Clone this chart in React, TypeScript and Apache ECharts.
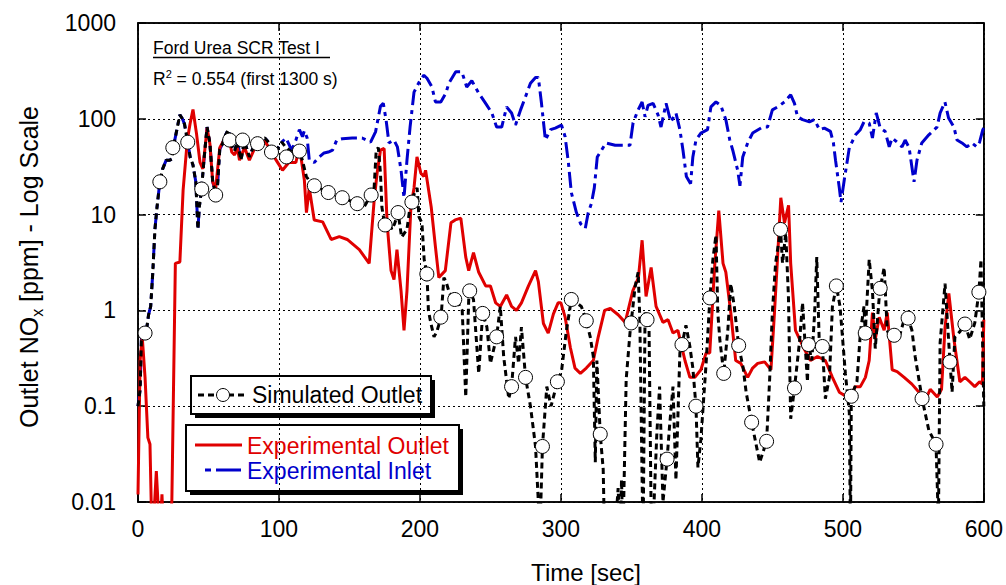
import React, { useEffect, useRef } from "react";
import * as echarts from "echarts";

const FONT = "'Liberation Sans', Arial, Helvetica, sans-serif";

const xTicks = [0, 100, 200, 300, 400, 500, 600];
const yTickLabels = ["0.01", "0.1", "1", "10", "100", "1000"];

// Experimental Inlet (time s, NOx ppm)
const inletT = [0, 1.5, 2.5, 4, 6, 7.5, 9, 10.5, 12, 13.5, 15.5, 17.5, 20, 22.5, 24, 25, 27, 29.7, 31.5, 33, 35, 37, 39, 41, 42.5, 43.5, 45, 47, 49, 51, 53, 55, 56, 58, 60, 61.5, 64, 66.5, 68.5, 70.5, 73, 75.6, 79, 83, 86, 90, 93, 97, 102, 105, 109, 112, 114.5, 116.7, 118, 120, 121.5, 125, 128.6, 132, 135, 138, 141, 145, 152, 159, 165, 168.5, 172, 174, 176, 178, 181.6, 184, 186.6, 188.7, 190.8, 193, 195.8, 200, 202.8, 205, 208.5, 211, 214.8, 218.4, 220.5, 225.4, 229.7, 233.2, 236.8, 241.7, 246.6, 251, 254.4, 258, 261.5, 265, 267.8, 271.4, 274.9, 278.4, 282, 284, 286.2, 289, 292.6, 296, 300.4, 303, 305.3, 307.4, 311, 314, 317.3, 319.4, 321.6, 323.7, 325.8, 332, 338.5, 345.6, 349, 351.2, 354.8, 357.6, 359.7, 361.8, 365.4, 368.9, 371, 374.6, 378, 381.6, 384.4, 386.6, 389, 392, 393.6, 395.8, 399.3, 404, 406.4, 410, 413.4, 417, 419.8, 421.9, 425.4, 427, 429, 432.5, 436, 443, 446.6, 450, 453.7, 458.6, 463, 465.7, 467.8, 471.4, 476.3, 479.9, 483.4, 486.9, 491.2, 493.3, 494.8, 497.5, 498.7, 501, 504.6, 509, 512.4, 515, 518.7, 521, 523.7, 526.5, 530, 532.9, 535, 538.5, 542, 544.2, 547, 550.5, 552.6, 556, 561, 566.8, 569, 572.4, 575, 578.8, 581, 584.5, 588, 591.5, 595, 597, 599.3, 600];
const inletV = [0.1, 0.15, 0.55, 0.6, 0.62, 0.9, 1.1, 2.5, 7, 12, 22, 30, 37, 37, 38, 50, 70, 110, 100, 88, 60, 40, 33, 22, 7, 12, 18, 40, 82, 56, 22, 17, 16, 48, 55, 65, 77, 52, 46, 58, 37, 58, 40, 56, 60, 63, 56, 44, 57, 63, 47, 60, 77, 65, 75, 63, 37, 35, 40, 44, 45, 47, 60, 62, 63, 63, 57, 73, 135, 145, 97, 56, 60, 51, 29, 15, 37, 82, 190, 250, 285, 265, 215, 150, 150, 185, 235, 310, 310, 215, 250, 185, 145, 115, 82, 82, 133, 115, 86, 124, 170, 235, 270, 270, 146, 60, 77, 80, 86, 65, 35, 17, 10.5, 8, 7.2, 10.5, 13, 19, 40, 56, 53, 53, 53, 91, 124, 150, 105, 138, 145, 110, 82, 145, 93, 115, 77, 47, 25, 21, 40, 60, 71, 77, 133, 150, 138, 98, 60, 47, 29, 20, 40, 56, 71, 82, 82, 124, 133, 150, 178, 145, 105, 98, 93, 98, 77, 80, 74, 56, 37, 19, 13.5, 23, 50, 68, 77, 93, 90, 63, 115, 80, 74, 51, 63, 57, 51, 60, 50, 22, 37, 56, 68, 82, 115, 150, 102, 82, 60, 56, 51, 56, 51, 57, 77, 80];

// Experimental Outlet
const outletT = [0, 1.5, 3, 5, 7, 8.5, 9.5, 11, 13, 14.5, 16, 17, 18, 22, 24, 26.5, 29.7, 32, 35, 37, 39, 41.5, 44, 46, 49, 51, 53, 55, 58, 61.5, 64, 66.5, 68.5, 70.5, 72, 75.6, 79, 83, 86, 90, 93, 98, 102.5, 107, 112, 114.5, 118, 119.5, 121.5, 125, 131, 137, 142.8, 148.4, 157, 164, 167.5, 169.6, 172, 174.6, 176.7, 179.5, 181.6, 183.7, 186.6, 188.7, 190.8, 193.6, 195.8, 197.9, 200.7, 202.8, 204, 208, 211, 213.4, 218, 222, 225, 229, 232.5, 234.6, 238, 241.7, 246.6, 250, 253.7, 257, 261.5, 265, 268.5, 272, 277, 282, 284, 287.6, 291, 294.7, 298, 300, 303, 306.7, 310, 313.8, 318, 323, 326.5, 331, 335, 340.6, 345.6, 351, 355, 357.6, 360.4, 364, 367.5, 372.4, 376, 379.5, 383, 388, 391.5, 395, 399.3, 403, 405.6, 409, 412, 415, 417, 420.5, 424, 427.6, 432.5, 436, 439.6, 444.5, 449, 451.5, 453.7, 456, 458.6, 461.5, 463, 466.4, 472.8, 477, 482, 487.6, 492.6, 497.5, 501, 505, 508.8, 512.4, 516, 518.7, 521, 523, 525.8, 529.3, 531.5, 535, 538.5, 543.5, 549, 554, 558.3, 562, 567, 570, 572.5, 575.2, 578.8, 583, 586.6, 590, 593.6, 597, 599, 600];
const outletV = [0.012, 0.3, 0.53, 0.2, 0.047, 0.04, 0.008, 0.006, 0.021, 0.008, 0.006, 0.012, 0.005, 0.005, 0.01, 3.1, 3.2, 18, 60, 90, 125, 70, 35, 30, 80, 55, 22, 18, 50, 62, 70, 45, 42, 50, 37, 50, 37, 50, 55, 58, 50, 37, 29, 35, 35, 51, 23, 10.5, 19, 8.8, 8.4, 5.5, 5.9, 5.5, 4.3, 3.1, 14, 27, 47, 49, 8.2, 2.6, 2.1, 4.3, 1.6, 0.62, 1.6, 12, 19, 40, 27, 25, 29, 12, 4.6, 2.2, 2.6, 8.2, 8.8, 9.2, 3.6, 2.6, 4, 2.5, 1.8, 1.8, 1.2, 1.1, 1.45, 1.1, 1.0, 1.2, 1.8, 2.6, 2.0, 0.73, 0.58, 0.92, 1.2, 1.2, 0.85, 0.41, 0.25, 0.22, 0.25, 0.3, 0.53, 1.0, 1.05, 0.9, 0.75, 1.6, 2.2, 5.4, 1.4, 2.8, 1.1, 0.75, 0.8, 0.58, 0.62, 0.3, 0.2, 0.2, 0.24, 0.36, 0.36, 2.8, 11, 3.1, 2.5, 0.95, 0.3, 0.28, 0.2, 0.25, 0.28, 0.29, 0.24, 0.95, 3.6, 15, 8.2, 12.5, 3.1, 0.62, 0.39, 0.3, 0.33, 0.3, 0.2, 0.14, 0.13, 0.12, 0.16, 0.16, 0.2, 0.3, 0.95, 0.5, 0.85, 0.62, 0.95, 0.24, 0.23, 0.2, 0.17, 0.14, 0.115, 0.15, 0.125, 0.15, 0.67, 1.5, 0.5, 0.18, 0.2, 0.18, 0.16, 0.18, 0.17, 0.8];

// Simulated Outlet (line)
const simT = [0, 1.5, 2.5, 4, 6, 7.5, 9, 10.5, 12, 13.5, 15.5, 17.5, 20, 22.5, 24, 25, 27, 29.7, 31.5, 33, 35, 37, 39, 41, 42.5, 43.5, 45, 47, 49, 51, 53, 55, 56, 58, 60, 61.5, 64, 66.5, 68.5, 70.5, 73, 75.6, 79, 83, 86, 90, 93, 97, 102, 105, 109, 112, 114.5, 116.6, 119.4, 122, 125, 135, 145, 155.5, 160.4, 163, 165, 167.5, 169, 170.5, 172, 173, 175, 178, 180, 182, 184.5, 187, 190.8, 193.6, 196, 198, 199.3, 201.4, 203, 205, 206, 207.7, 210, 212, 215, 217, 218.5, 221, 224.7, 227, 230, 232.5, 234.6, 235.3, 238, 241.7, 244.5, 247.5, 250, 254.4, 257, 259.4, 263, 265, 267.8, 270, 272, 274.9, 278.4, 282, 284, 285, 286.9, 290, 293, 297.5, 300.4, 303.8, 307.4, 311, 314.5, 318, 320.8, 323, 324.4, 325.5, 327.9, 330, 331, 338, 340.6, 342, 343, 344, 346.3, 349, 349.8, 352.6, 354.8, 356, 357.6, 358.3, 359.7, 361.1, 362.5, 364, 365, 368, 370, 372.4, 375.3, 377, 379.5, 381.6, 384.4, 385.9, 388.7, 391.5, 393.6, 395.8, 397.2, 399.3, 403, 405.7, 407.8, 410, 411.3, 412.7, 415.5, 418.4, 420.5, 423, 426.1, 429.3, 431.4, 435.3, 441, 445.9, 448, 450, 452.3, 455.8, 457.2, 459.5, 461.4, 463, 465.7, 469.2, 471.4, 473, 474.9, 475.6, 478, 480, 481.5, 483.4, 485.5, 487.6, 490.5, 492.6, 495.4, 498, 501.8, 504.6, 505.4, 506, 510, 512.5, 515, 515.9, 518.7, 521, 523, 526, 526.5, 529.3, 531.5, 534, 536.4, 540, 543.5, 546.3, 549, 551.3, 556.2, 561, 566.1, 567.8, 569, 572.5, 576, 577.5, 579.5, 583, 586.6, 590, 593.6, 596.5, 598, 600];
const simV = [0.1, 0.15, 0.55, 0.6, 0.62, 0.9, 1.1, 2.5, 7, 12, 22, 30, 37, 37, 38, 50, 70, 110, 100, 88, 60, 40, 33, 22, 7, 12, 18, 40, 82, 56, 22, 17, 16, 48, 55, 65, 77, 52, 46, 58, 37, 58, 40, 56, 60, 63, 56, 44, 57, 50, 45, 50, 46, 37, 25, 22, 20, 17, 15, 13, 12, 14, 16, 19, 47, 50, 27, 12, 7.8, 8.8, 7, 8, 10.5, 5.8, 7, 14, 16.5, 19, 9.5, 8.2, 3.4, 2.4, 1, 0.74, 0.53, 0.6, 0.85, 2.2, 2, 1.5, 1.3, 1.2, 1, 0.125, 1.3, 1.6, 1.3, 0.22, 0.93, 0.67, 0.28, 0.53, 1.1, 0.33, 0.12, 0.16, 0.53, 0.28, 0.67, 0.2, 0.1, 0.038, 0.01, 0.004, 0.038, 0.16, 0.1, 0.18, 0.23, 0.6, 1.3, 1.2, 1.1, 0.78, 0.53, 0.33, 0.026, 0.3, 0.051, 0.022, 0.004, 0.004, 0.014, 0.004, 0.017, 0.004, 0.19, 0.58, 0.74, 1.75, 2.5, 0.8, 0.017, 0.004, 0.95, 0.79, 0.7, 0.008, 0.004, 0.05, 0.16, 0.01, 0.028, 0.06, 0.16, 0.017, 0.36, 0.44, 0.7, 0.42, 0.25, 0.1, 0.023, 0.045, 0.28, 1.35, 3.4, 6.1, 0.95, 0.5, 0.22, 0.62, 1.9, 1.1, 0.43, 0.25, 0.14, 0.068, 0.026, 0.043, 0.18, 0.95, 3.1, 7, 3.1, 6.4, 1.4, 0.074, 0.155, 0.46, 1.2, 0.5, 0.18, 0.44, 0.3, 0.95, 3.6, 0.4, 0.42, 0.12, 0.2, 1.1, 1.8, 1.1, 0.22, 0.085, 0.004, 0.127, 0.18, 0.6, 1.1, 0.58, 3.4, 1.6, 0.4, 1.5, 1.7, 2.8, 0.62, 0.5, 0.55, 0.53, 0.8, 0.83, 0.62, 0.33, 0.12, 0.056, 0.04, 0.006, 0.46, 1.9, 0.29, 0.14, 0.53, 0.6, 0.72, 0.5, 0.74, 1.55, 3.4, 0.1];

// Simulated Outlet (open circle markers)
const markerT = [5, 15.5, 24.7, 35.3, 45.2, 55.1, 65, 74.2, 84.8, 94.7, 105.3, 114.5, 125.1, 135, 144.9, 155.5, 165.4, 175.3, 184.5, 194.3, 204.9, 214.8, 224.7, 235.3, 244.5, 254.4, 265, 274.9, 286.9, 297.5, 307.4, 318, 327.9, 349.8, 361.1, 375.3, 385.9, 395.8, 405.7, 415.5, 426.1, 435.3, 445.9, 455.8, 465.7, 475.6, 485.5, 495.4, 506, 515.9, 526.5, 536.4, 546.3, 556.2, 566.1, 576, 586.6, 596.5];
const markerV = [0.58, 22, 50, 57, 18.5, 16, 60, 60, 55, 45, 40, 46, 20, 17, 15, 13, 16, 7.8, 10.5, 13.5, 2.4, 0.85, 1.3, 1.6, 0.93, 0.53, 0.16, 0.2, 0.038, 0.18, 1.3, 0.78, 0.051, 0.74, 0.8, 0.028, 0.44, 0.1, 1.35, 0.22, 0.43, 0.068, 0.043, 7, 0.155, 0.44, 0.42, 1.8, 0.127, 0.58, 1.7, 0.55, 0.83, 0.12, 0.04, 0.29, 0.72, 1.55];

const zip = (t: number[], v: number[]) => t.map((x, i) => [x, v[i]]);

export default function App() {
  const ref = useRef<HTMLDivElement>(null);
  useEffect(() => {
    if (!ref.current) return;
    const chart = echarts.init(ref.current, null, { renderer: "svg" });
    const axisLine = { show: true, onZero: false, lineStyle: { color: "#000", width: 1.5 } };
    const tick = { show: true, inside: true, length: 8, lineStyle: { color: "#000", width: 1.5 } };
    const split = { show: true, lineStyle: { color: "#000", width: 1, type: [2, 3] } };
    const txt = (text: string, x: number, y: number, size: number, color = "#000", extra: any = {}) => ({
      type: "text",
      x,
      y,
      silent: true,
      style: { text, fontSize: size, fontFamily: FONT, fill: color, align: "left", verticalAlign: "middle", textAlign: "left", textVerticalAlign: "middle", ...extra },
    });
    const option: any = {
      animation: false,
      backgroundColor: "#fff",
      grid: { left: 138, right: 19, top: 23, bottom: 83, show: true, borderColor: "#000", borderWidth: 1.5, backgroundColor: "transparent" },
      xAxis: [
        {
          type: "value", min: xTicks[0], max: xTicks[xTicks.length - 1], interval: 100,
          axisLine, axisTick: tick, splitLine: split,
          axisLabel: { fontSize: 23, color: "#000", fontFamily: FONT, margin: 15 },
        },
        {
          type: "value", position: "top", min: 0, max: 600, interval: 100,
          axisLine, axisTick: tick, splitLine: { show: false }, axisLabel: { show: false },
        },
      ],
      yAxis: [
        {
          type: "log", logBase: 10, min: 0.01, max: 1000,
          axisLine, axisTick: tick, splitLine: split, minorTick: { show: false },
          axisLabel: {
            fontSize: 23, color: "#000", fontFamily: FONT, margin: 22,
            formatter: (v: number) => yTickLabels[Math.round(Math.log10(v)) + 2] ?? "",
          },
        },
        {
          type: "log", logBase: 10, min: 0.01, max: 1000, position: "right",
          axisLine, axisTick: tick, splitLine: { show: false }, axisLabel: { show: false },
        },
      ],
      series: [
        {
          name: "Experimental Inlet", type: "line", data: zip(inletT, inletV), symbol: "none", z: 2,
          lineStyle: { color: "#0000cc", width: 3, type: [16, 5, 4, 5] },
        },
        {
          name: "Experimental Outlet", type: "line", data: zip(outletT, outletV), symbol: "none", z: 3,
          lineStyle: { color: "#e00000", width: 3 },
        },
        {
          name: "Simulated Outlet", type: "line", data: zip(simT, simV), symbol: "none", z: 4,
          lineStyle: { color: "#000", width: 3, type: [6, 4] },
        },
        {
          name: "Simulated Outlet markers", type: "scatter", data: zip(markerT, markerV), symbol: "circle", symbolSize: 14, z: 5,
          itemStyle: { color: "#fff", borderColor: "#000", borderWidth: 1, opacity: 1 },
        },
      ],
      graphic: [
        // in-plot title
        txt("Ford Urea SCR Test I", 153, 48, 17.5),
        { type: "line", silent: true, shape: { x1: 153, y1: 57.5, x2: 330, y2: 57.5 }, style: { stroke: "#000", lineWidth: 1.5 } },
        {
          type: "text", x: 153, y: 79, silent: true,
          style: {
            text: "{n|R}{s|2}{n| = 0.554 (first 1300 s)}",
            align: "left", verticalAlign: "middle", textAlign: "left", textVerticalAlign: "middle",
            rich: {
              n: { fontSize: 17.5, fontFamily: FONT, fill: "#000", color: "#000", lineHeight: 22 },
              s: { fontSize: 11, fontFamily: FONT, fill: "#000", color: "#000", verticalAlign: "top", lineHeight: 22 },
            },
          },
        },
        // y axis title
        {
          type: "text", x: 29, y: 267, rotation: Math.PI / 2, silent: true,
          style: {
            text: "{a|Outlet NO}{s|x}{a| [ppm] - Log Scale}",
            align: "center", verticalAlign: "middle", textAlign: "center", textVerticalAlign: "middle",
            rich: {
              a: { fontSize: 25, fontFamily: FONT, fill: "#000", color: "#000", lineHeight: 32 },
              s: { fontSize: 16, fontFamily: FONT, fill: "#000", color: "#000", verticalAlign: "bottom", lineHeight: 32 },
            },
          },
        },
        // x axis title
        txt("Time [sec]", 586, 572, 24, "#000", { align: "center", textAlign: "center" }),
        // legend box 1
        { type: "rect", silent: true, shape: { x: 195, y: 380, width: 240, height: 38 }, style: { fill: "#000" } },
        { type: "rect", silent: true, shape: { x: 191, y: 376, width: 240, height: 38 }, style: { fill: "#fff", stroke: "#000", lineWidth: 2 } },
        { type: "line", silent: true, shape: { x1: 198, y1: 395, x2: 248, y2: 395 }, style: { stroke: "#000", lineWidth: 3, lineDash: [6, 4] } },
        { type: "circle", silent: true, shape: { cx: 223, cy: 395, r: 6.5 }, style: { fill: "#fff", stroke: "#000", lineWidth: 1 } },
        txt("Simulated Outlet", 252, 395, 23),
        // legend box 2
        { type: "rect", silent: true, shape: { x: 190, y: 429, width: 273, height: 66 }, style: { fill: "#000" } },
        { type: "rect", silent: true, shape: { x: 186, y: 425, width: 273, height: 66 }, style: { fill: "#fff", stroke: "#000", lineWidth: 2 } },
        { type: "line", silent: true, shape: { x1: 195, y1: 445, x2: 242, y2: 445 }, style: { stroke: "#e00000", lineWidth: 3 } },
        txt("Experimental Outlet", 247, 446, 23, "#e00000"),
        { type: "line", silent: true, shape: { x1: 205, y1: 470, x2: 241, y2: 470 }, style: { stroke: "#0000cc", lineWidth: 3, lineDash: [6, 5, 25, 5] } },
        txt("Experimental Inlet", 247, 471, 23, "#0000cc"),
      ],
    };
    chart.setOption(option);
    return () => chart.dispose();
  }, []);
  return <div ref={ref} style={{ position: "fixed", left: 0, top: 0, width: 1006, height: 585, background: "#fff" }} />;
}
